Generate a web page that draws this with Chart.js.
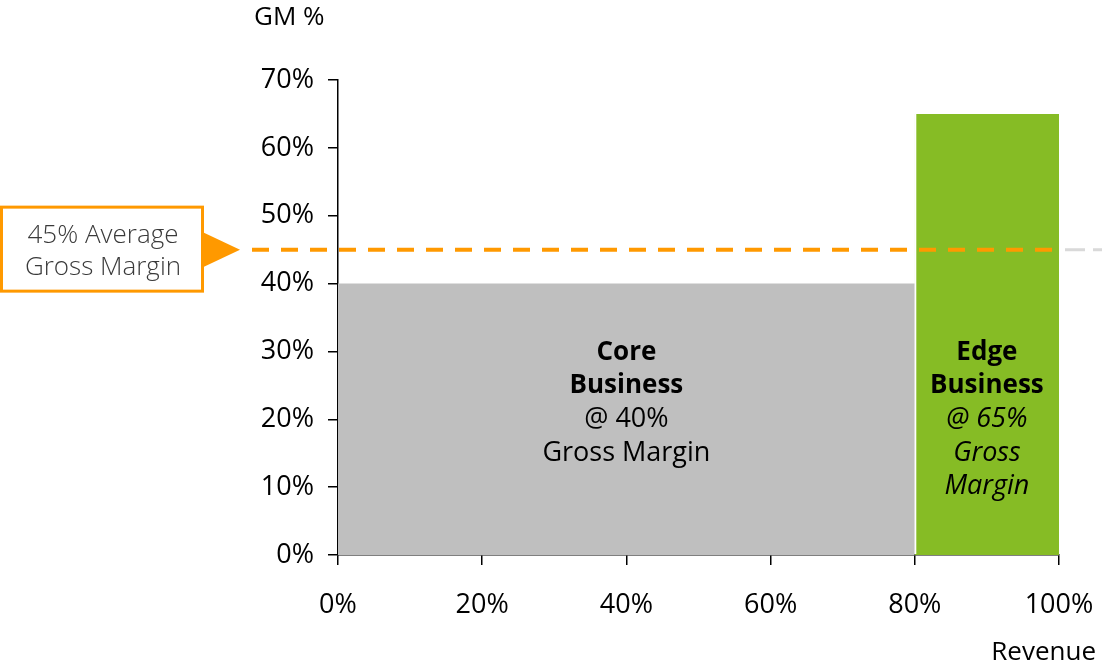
<!DOCTYPE html>
<html>
<head>
<meta charset="utf-8">
<script src="https://cdn.jsdelivr.net/npm/chart.js@4.4.1/dist/chart.umd.min.js"></script>
<style>
  html, body { margin: 0; padding: 0; background: #fff; }
  #wrap { width: 1102px; height: 667px; }
</style>
</head>
<body>
<div id="wrap"><canvas id="chart" width="1102" height="667"></canvas></div>
<script>
// --- Data ---
const segmentNames = ['Core', 'Edge'];
const revenueShare = [80, 20];       // % of revenue
const grossMargin = [40, 65];        // GM %
const avgMargin = 45;
const segmentLabels = [
  ['Core', 'Business', '@ 40%', 'Gross Margin'],
  ['Edge', 'Business', '@ 65%', 'Gross', 'Margin']
];
const calloutLines = ['45% Average', 'Gross Margin'];
const xTickMax = 100;
const yTickMax = 70;

// --- Styles ---
const FONT = '"Open Sans", "Noto Sans", sans-serif';
const SEG_COLORS = ['#BFBFBF', '#86BC25'];
const ORANGE = '#FF9900';

// build rectangle outlines (line + fill to origin) from the arrays
let start = 0;
const datasets = revenueShare.map((w, i) => {
  const ds = {
    label: segmentNames[i],
    data: [{ x: start, y: grossMargin[i] }, { x: start + w, y: grossMargin[i] }],
    borderWidth: 0,
    pointRadius: 0,
    fill: 'origin',
    backgroundColor: SEG_COLORS[i],
    tension: 0
  };
  start += w;
  return ds;
});

// --- Overlay plugin: separators, segment text, average line, callout, axis titles ---
const overlay = {
  id: 'overlay',
  afterDatasetsDraw(chart) {
    const { ctx, scales: { x, y } } = chart;
    ctx.save();

    // white separator between segments
    let acc = 0;
    revenueShare.slice(0, -1).forEach(w => {
      acc += w;
      const px = x.getPixelForValue(acc);
      ctx.strokeStyle = '#fff';
      ctx.lineWidth = 1.5;
      ctx.beginPath();
      ctx.moveTo(px + 0.75, y.getPixelForValue(0) - 1);
      ctx.lineTo(px + 0.75, y.getPixelForValue(grossMargin[1]));
      ctx.stroke();
    });

    // segment labels
    acc = 0;
    segmentLabels.forEach((lines, i) => {
      const cx = x.getPixelForValue(acc + revenueShare[i] / 2);
      acc += revenueShare[i];
      const y0 = y.getPixelForValue(30) + 1;
      ctx.fillStyle = '#000';
      ctx.textAlign = 'center';
      ctx.textBaseline = 'middle';
      lines.forEach((t, j) => {
        let style = '';
        if (j < 2) style = 'bold ';
        else if (i === 1) style = 'italic ';
        ctx.font = style + (j < 2 ? '26px ' : '27px ') + FONT;
        ctx.fillText(t, cx, y0 + j * 33.5);
      });
    });

    // average line
    const ay = y.getPixelForValue(avgMargin);
    const xEnd = x.getPixelForValue(xTickMax);
    ctx.lineWidth = 4;
    ctx.strokeStyle = ORANGE;
    ctx.setLineDash([17, 12]);
    ctx.beginPath();
    ctx.moveTo(252, ay);
    ctx.lineTo(xEnd - 3, ay);
    ctx.stroke();
    ctx.lineWidth = 3;
    ctx.strokeStyle = '#D9D9D9';
    ctx.setLineDash([20, 8]);
    ctx.beginPath();
    ctx.moveTo(xEnd + 6, ay);
    ctx.lineTo(chart.width, ay);
    ctx.stroke();
    ctx.setLineDash([]);

    // callout box + arrow
    ctx.strokeStyle = ORANGE;
    ctx.lineWidth = 3;
    ctx.strokeRect(1.5, ay - 42.5, 201, 84);
    ctx.fillStyle = ORANGE;
    ctx.beginPath();
    ctx.moveTo(204, ay - 17);
    ctx.lineTo(240, ay);
    ctx.lineTo(204, ay + 17);
    ctx.closePath();
    ctx.fill();
    ctx.fillStyle = '#3A3A3A';
    ctx.font = '300 26px ' + FONT;
    ctx.textAlign = 'center';
    ctx.textBaseline = 'middle';
    calloutLines.forEach((t, j) => ctx.fillText(t, 103, ay - 14 + j * 32));

    // axis titles
    ctx.fillStyle = '#000';
    ctx.font = '26px ' + FONT;
    ctx.textAlign = 'left';
    ctx.fillText('GM %', 254, 18);
    ctx.textAlign = 'right';
    ctx.fillText('Revenue', 1096, 653);

    ctx.restore();
  }
};

function noPad(s) {
  s.paddingLeft = 0;
  s.paddingRight = 0;
  s.paddingTop = 0;
  s.paddingBottom = 0;
}

new Chart(document.getElementById('chart'), {
  type: 'line',
  data: { datasets },
  options: {
    responsive: false,
    animation: false,
    layout: { padding: { top: 80, right: 43, bottom: 0, left: 0 } },
    plugins: { legend: { display: false }, tooltip: { enabled: false } },
    scales: {
      x: {
        type: 'linear',
        min: 0,
        max: xTickMax,
        afterFit: s => { s.height = 112; noPad(s); },
        ticks: {
          stepSize: 20,
          color: '#000',
          padding: 24,
          font: { family: FONT, size: 27 },
          callback: v => v + '%'
        },
        grid: { drawOnChartArea: false, drawTicks: true, tickLength: 10, color: '#000', lineWidth: 1.5 },
        border: { display: true, color: '#000', width: 1.5 }
      },
      y: {
        type: 'linear',
        min: 0,
        max: yTickMax,
        afterFit: s => { s.width = 338; noPad(s); },
        ticks: {
          stepSize: 10,
          color: '#000',
          padding: 14,
          font: { family: FONT, size: 27 },
          callback: v => v + '%'
        },
        grid: { drawOnChartArea: false, drawTicks: true, tickLength: 10, color: '#000', lineWidth: 1.5 },
        border: { display: true, color: '#000', width: 1.5 }
      }
    }
  },
  plugins: [overlay]
});
</script>
</body>
</html>
